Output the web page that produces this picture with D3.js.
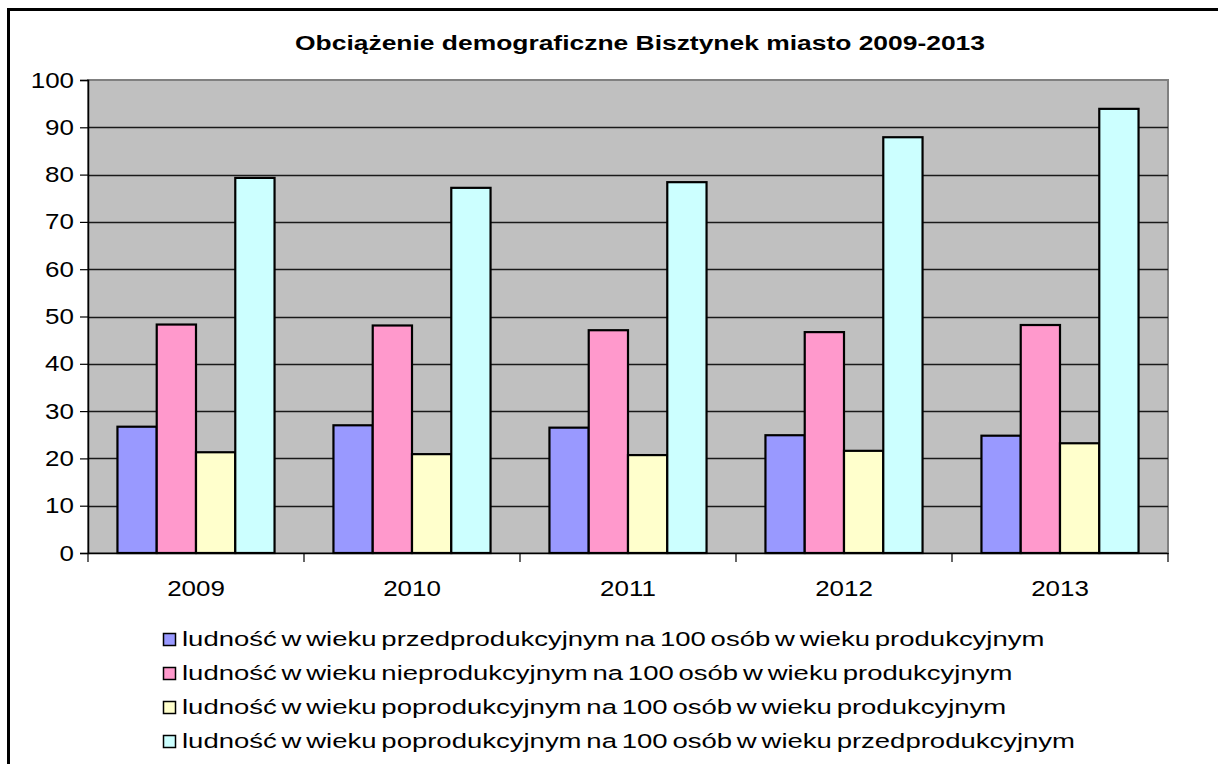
<!DOCTYPE html>
<html lang="pl">
<head>
<meta charset="UTF-8">
<script src="https://d3js.org/d3.v7.min.js"></script>
<style>
    body { margin: 0; background: #fff; }
    text { font-family: "Liberation Sans", Arial, sans-serif; fill: #000; }
</style>
<title>Obciążenie demograficzne</title>
</head>
<body>
<svg id="chart" width="1218" height="764"></svg>
<script>
    // dane
    var years = ["2009", "2010", "2011", "2012", "2013"];
    var seriesNames = [
        "ludność w wieku przedprodukcyjnym na 100 osób w wieku produkcyjnym",
        "ludność w wieku nieprodukcyjnym na 100 osób w wieku produkcyjnym",
        "ludność w wieku poprodukcyjnym na 100 osób w wieku produkcyjnym",
        "ludność w wieku poprodukcyjnym na 100 osób w wieku przedprodukcyjnym"
    ];
    var przedprod = [26.7, 27.0, 26.5, 24.9, 24.8];
    var nieprod = [48.3, 48.1, 47.1, 46.7, 48.2];
    var poprod = [21.3, 20.9, 20.7, 21.6, 23.2];
    var poprodPrzed = [79.3, 77.2, 78.4, 87.9, 93.9];
    var yTicks = [0, 10, 20, 30, 40, 50, 60, 70, 80, 90, 100];

    var colors = ["#9999FF", "#FF99CC", "#FFFFCC", "#CCFFFF"];
    var values = [przedprod, nieprod, poprod, poprodPrzed];

    var svg = d3.select("#chart");
    var plot = {left: 88, right: 1168, top: 80, bottom: 553};

    // ramka wykresu
    svg.append("rect")
        .attr("x", 8.5).attr("y", 9.5)
        .attr("width", 1240).attr("height", 800)
        .attr("fill", "none").attr("stroke", "#000").attr("stroke-width", 3);

    var x0 = d3.scaleBand().domain(years).range([plot.left, plot.right]);
    var x1 = d3.scaleBand().domain(d3.range(4)).range([0, x0.bandwidth()]).paddingOuter(0.75);
    var y = d3.scaleLinear().domain([0, 100]).range([plot.bottom, plot.top]);

    // tło
    svg.append("rect")
        .attr("x", plot.left).attr("y", plot.top)
        .attr("width", plot.right - plot.left).attr("height", plot.bottom - plot.top)
        .attr("fill", "#C0C0C0").attr("stroke", "#808080").attr("stroke-width", 2);

    // linie siatki
    svg.append("g").selectAll("line")
        .data(yTicks.filter(function (d) { return d > 0 && d < 100; }))
        .enter().append("line")
        .attr("x1", plot.left).attr("x2", plot.right)
        .attr("y1", function (d) { return Math.round(y(d)) + 0.5; })
        .attr("y2", function (d) { return Math.round(y(d)) + 0.5; })
        .attr("stroke", "#1a1a1a").attr("stroke-width", 1.4);

    // słupki
    var groups = svg.append("g").selectAll("g")
        .data(years).enter().append("g")
        .attr("transform", function (d) { return "translate(" + x0(d) + ",0)"; });

    groups.selectAll("rect")
        .data(function (d, i) { return values.map(function (v, s) { return {s: s, v: v[i]}; }); })
        .enter().append("rect")
        .attr("x", function (d) { return x1(d.s); })
        .attr("width", x1.bandwidth())
        .attr("y", function (d) { return y(d.v); })
        .attr("height", function (d) { return y(0) - y(d.v); })
        .attr("fill", function (d) { return colors[d.s]; })
        .attr("stroke", "#000").attr("stroke-width", 2.2);

    // oś Y
    var yAxis = d3.axisLeft(y).tickValues(yTicks).tickSize(8).tickPadding(6);
    var gy = svg.append("g").attr("transform", "translate(" + plot.left + ",0)").call(yAxis);
    gy.select(".domain").attr("stroke", "#000").attr("stroke-width", 1.5);
    gy.selectAll(".tick line").attr("stroke", "#000").attr("stroke-width", 1.2);
    gy.selectAll("text").style("font-size", "22px").attr("fill", "#000")
        .attr("font-family", "Liberation Sans, Arial, sans-serif");

    // oś X
    var xAxis = d3.axisBottom(x0).tickSize(0).tickPadding(27);
    var gx = svg.append("g").attr("transform", "translate(0," + plot.bottom + ")").call(xAxis);
    gx.select(".domain").attr("stroke", "#000").attr("stroke-width", 1.5);
    gx.selectAll("text").style("font-size", "22px").attr("fill", "#000")
        .attr("font-family", "Liberation Sans, Arial, sans-serif");
    gx.append("g").selectAll("line")
        .data(years.map(function (d) { return x0(d); }).concat([plot.right]))
        .enter().append("line")
        .attr("x1", function (d) { return d; }).attr("x2", function (d) { return d; })
        .attr("y1", 0).attr("y2", 9)
        .attr("stroke", "#000").attr("stroke-width", 1.2);

    // rozciągnięcie tekstu w poziomie jak na oryginale
    function stretch(sel, sx) {
        sel.each(function () {
            var w = this.getComputedTextLength();
            d3.select(this).attr("textLength", w * sx).attr("lengthAdjust", "spacingAndGlyphs");
        });
    }
    stretch(gy.selectAll("text"), 1.18);
    stretch(gx.selectAll("text"), 1.18);

    // tytuł
    var titleG = svg.append("g").attr("transform", "translate(640,50)");
    var title = titleG.append("text")
        .attr("text-anchor", "middle")
        .style("font-size", "21px").style("font-weight", "bold")
        .text("Obciążenie demograficzne Bisztynek miasto 2009-2013");
    var tw = title.node().getComputedTextLength();
    title.attr("transform", "scale(" + (690 / tw) + ",1)");

    // legenda
    var legend = svg.append("g").selectAll("g")
        .data(seriesNames).enter().append("g")
        .attr("transform", function (d, i) { return "translate(163," + (646 + i * 34) + ")"; });
    legend.append("rect")
        .attr("x", 0.5).attr("y", -12.5).attr("width", 12).attr("height", 12)
        .attr("fill", function (d, i) { return colors[i]; })
        .attr("stroke", "#000").attr("stroke-width", 1.5);
    var legendText = legend.append("g").attr("transform", "translate(19,0)")
        .append("text")
        .style("font-size", "19.5px")
        .style("word-spacing", "-2px")
        .text(function (d) { return d; });
    var base = legendText.node().getComputedTextLength();
    legendText.attr("transform", "scale(" + (863 / base) + ",1)");
</script>
</body>
</html>
